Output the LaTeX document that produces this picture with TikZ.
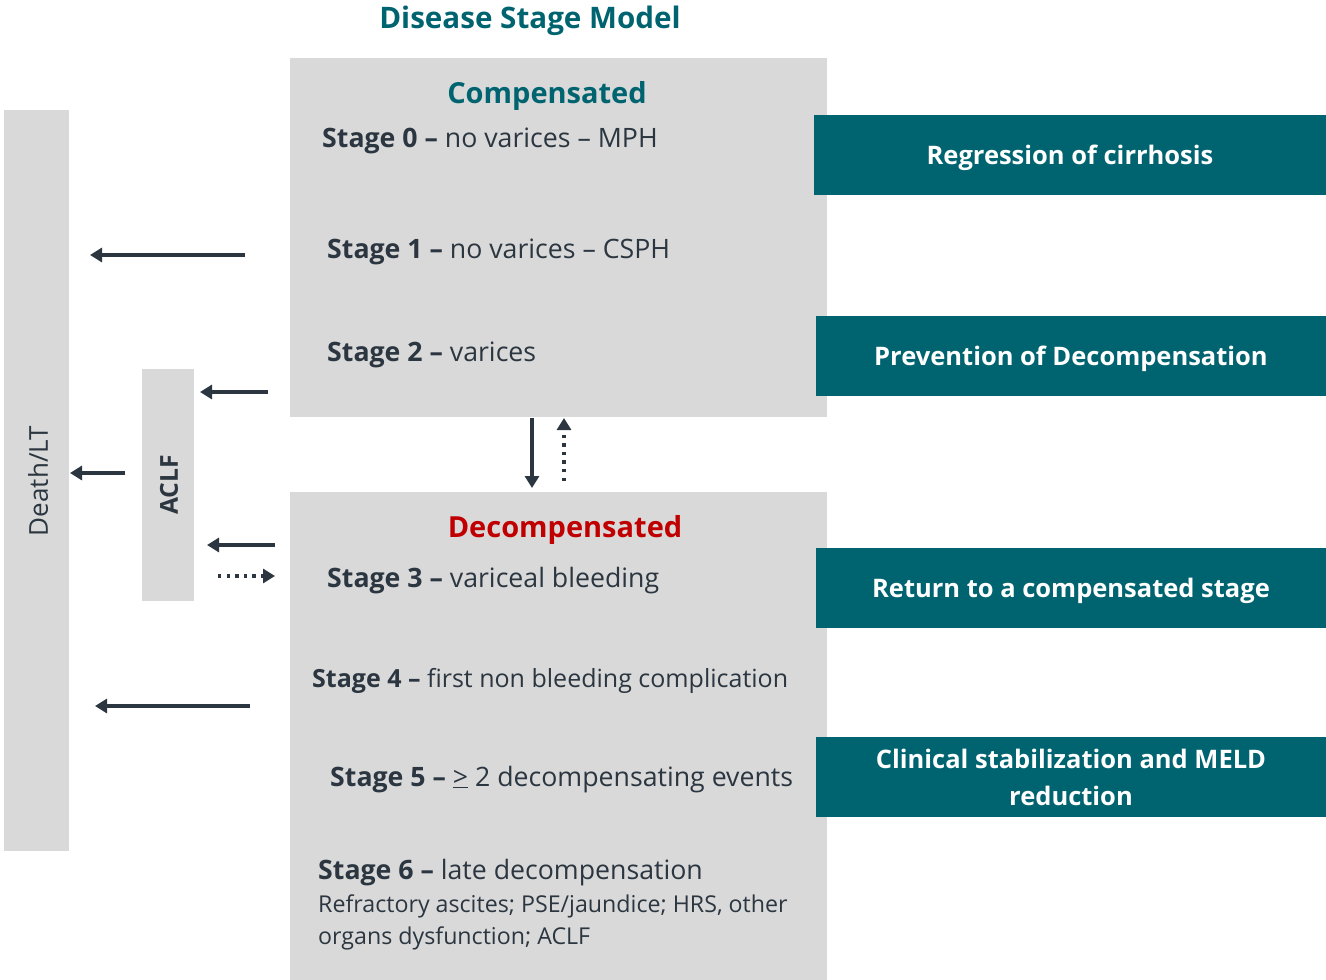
\documentclass[tikz,border=0pt]{standalone}
\usepackage{fontspec}
\setmainfont{Open Sans}
\usetikzlibrary{arrows.meta}
\definecolor{teal}{RGB}{0,100,112}
\definecolor{panel}{RGB}{217,217,217}
\definecolor{ink}{RGB}{43,54,64}
\definecolor{alert}{RGB}{192,0,0}
\begin{document}
\begin{tikzpicture}[x=1pt,y=-1pt,
  goalbox/.style={fill=teal,draw=none,inner sep=0pt,text=white,align=center,
    minimum height=80pt,font=\fontsize{25.5}{37}\selectfont\bfseries},
  oneline/.style={text height=19pt,text depth=0pt},
  stagetext/.style={anchor=base west,inner sep=0pt,text=ink,font=\fontsize{26.7}{30}\selectfont},
  smalltext/.style={anchor=base west,inner sep=0pt,text=ink,font=\fontsize{23.2}{26}\selectfont},
  heading/.style={inner sep=0pt,anchor=base,font=\fontsize{29}{36}\selectfont\bfseries},
  flow/.style={draw=ink,line width=3.6pt,-{Triangle[length=12pt,width=14pt]}},
  dotflow/.style={draw=ink,line width=3.6pt,dash pattern=on 3.4pt off 5.2pt,-{Triangle[length=12pt,width=14pt]}}
]
\useasboundingbox (0,0) rectangle (1326,980);

% title
\node[heading,text=teal,font=\fontsize{29.6}{36}\selectfont\bfseries] (title) at (530,28) {Disease Stage Model};

% grey panels
\fill[panel] (290,58) rectangle (827,417);
\fill[panel] (290,492) rectangle (827,980);
\fill[panel] (4,110) rectangle (69,851);
\fill[panel] (142,369) rectangle (194,601);

\node[rotate=90,inner sep=0pt,text=ink,font=\fontsize{26}{30}\selectfont] (death) at (38,481) {Death/LT};
\node[rotate=90,inner sep=0pt,text=ink,font=\fontsize{24.7}{30}\selectfont\bfseries] (aclf) at (169,485) {ACLF};

% compensated stages
\node[heading,text=teal] (comp) at (547,103) {Compensated};
\node[stagetext] (s0) at (322,147) {\textbf{Stage 0 –} no varices – MPH};
\node[stagetext] (s1) at (327,258) {\textbf{Stage 1 –} no varices – CSPH};
\node[stagetext] (s2) at (327,361) {\textbf{Stage 2 –} varices};

% decompensated stages
\node[heading,text=alert] (decomp) at (565,537) {Decompensated};
\node[stagetext] (s3) at (327,587) {\textbf{Stage 3 –} variceal bleeding};
\node[stagetext,font=\fontsize{25}{30}\selectfont] (s4) at (312,687) {\textbf{Stage 4 –} first non bleeding complication};
\node[stagetext] (s5) at (330,786) {\textbf{Stage 5 –} \underline{>} 2 decompensating events};
\node[stagetext] (s6) at (318,879) {\textbf{Stage 6 –} late decompensation};
\node[smalltext] (s6a) at (318,912) {Refractory ascites; PSE/jaundice; HRS, other};
\node[smalltext] (s6b) at (318,944) {organs dysfunction; ACLF};

% therapeutic goals
\node[goalbox,oneline,minimum width=512pt] (g1) at (1070,155) {Regression of cirrhosis};
\node[goalbox,oneline,minimum width=510pt] (g2) at (1071,356) {Prevention of Decompensation};
\node[goalbox,oneline,minimum width=510pt] (g3) at (1071,588) {Return to a compensated stage};
\node[goalbox,minimum width=510pt] (g4) at (1071,777) {Clinical stabilization and MELD\\reduction};

% transitions
\coordinate (a1s) at (245,255); \coordinate (a1e) at (90,255);
\coordinate (a2s) at (268,392); \coordinate (a2e) at (200,392);
\coordinate (a3s) at (125,473); \coordinate (a3e) at (70,473);
\coordinate (a4s) at (275,545); \coordinate (a4e) at (207,545);
\coordinate (a5s) at (218,576); \coordinate (a5e) at (275,576);
\coordinate (a6s) at (250,706); \coordinate (a6e) at (95,706);
\coordinate (v1s) at (532,418); \coordinate (v1e) at (532,488);
\coordinate (v2s) at (564,481); \coordinate (v2e) at (564,418);

\draw[flow] (a1s) -- (a1e);
\draw[flow] (a2s) -- (a2e);
\draw[flow] (a3s) -- (a3e);
\draw[flow] (a4s) -- (a4e);
\draw[dotflow] (a5s) -- (a5e);
\draw[flow] (a6s) -- (a6e);
\draw[flow] (v1s) -- (v1e);
\draw[dotflow] (v2s) -- (v2e);
\end{tikzpicture}
\end{document}
